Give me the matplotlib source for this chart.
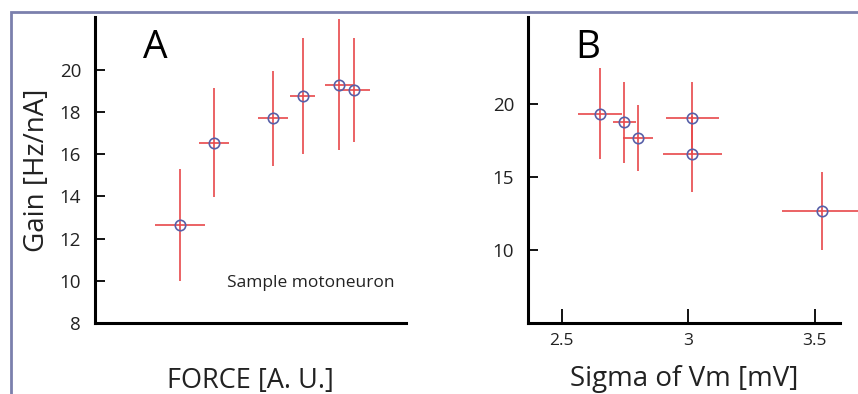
import matplotlib.pyplot as plt
import matplotlib.patches as mpatches

# panel A: gain vs force (arbitrary units)
force = [27.3, 38.3, 57.2, 66.8, 78.6, 83.3]
force_err = [8.0, 4.7, 4.8, 4.0, 4.5, 5.1]
gain_a = [12.65, 16.55, 17.7, 18.75, 19.3, 19.05]
gain_a_err = [2.67, 2.58, 2.26, 2.74, 3.1, 2.47]

# panel B: gain vs sigma of Vm
sigma = [2.65, 2.747, 2.802, 3.016, 3.016, 3.527]
sigma_err = [0.087, 0.045, 0.058, 0.105, 0.117, 0.155]
gain_b = [19.3, 18.73, 17.68, 19.02, 16.57, 12.7]
gain_b_err = [3.1, 2.75, 2.25, 2.47, 2.6, 2.65]

yticks_a = [8, 10, 12, 14, 16, 18, 20]
yticks_b = [10, 15, 20]
xticks_b = [2.5, 3, 3.5]

red = "#e8484a"
blue = "#5860a8"
font = "Open Sans"
ink = "#222222"

fig = plt.figure(figsize=(8.58, 3.94), dpi=100)
W, H = 858, 394


def axes_px(x0, y0, x1, y1):
    return fig.add_axes([x0 / W, 1 - y1 / H, (x1 - x0) / W, (y1 - y0) / H])


def style(ax):
    for s in ("top", "right"):
        ax.spines[s].set_visible(False)
    for s in ("left", "bottom"):
        ax.spines[s].set_linewidth(2.2)
    ax.patch.set_alpha(0)


def draw(ax, x, xe, y, ye):
    ax.errorbar(x, y, xerr=xe, yerr=ye, fmt="none", ecolor=red,
                elinewidth=1.2, capsize=0, clip_on=False, zorder=2)
    ax.plot(x, y, "o", mfc="none", mec=blue, ms=7.5, mew=1.2,
            clip_on=False, zorder=3)


# panel A
ax1 = axes_px(95, 17, 406, 323)
style(ax1)
draw(ax1, force, force_err, gain_a, gain_a_err)
ax1.set_xlim(0, 100)
ax1.set_ylim(8, 22.5)
ax1.set_xticks([])
ax1.set_yticks(yticks_a)
ax1.set_yticklabels([str(t) for t in yticks_a], fontsize=13.5, family=font,
                    color=ink)
ax1.tick_params(axis="y", direction="in", length=7, width=1.3, pad=10)
ax1.set_ylabel("Gain [Hz/nA]", fontsize=20, family=font, color=ink,
               labelpad=6)
ax1.set_xlabel("FORCE [A. U.]", fontsize=19.5, family=font, color=ink,
               labelpad=32)
ax1.text(0.155, 0.96, "A", transform=ax1.transAxes, fontsize=28,
         family=font, va="top", ha="left")
ax1.text(0.425, 0.13, "Sample motoneuron", transform=ax1.transAxes,
         fontsize=12.5, family=font, color=ink, va="center")

# panel B
ax2 = axes_px(528, 17, 840, 323)
style(ax2)
draw(ax2, sigma, sigma_err, gain_b, gain_b_err)
ax2.set_xlim(2.367, 3.6)
ax2.set_ylim(5.05, 25.9)
ax2.set_yticks(yticks_b)
ax2.set_yticklabels([str(t) for t in yticks_b], fontsize=13.5, family=font,
                    color=ink)
ax2.set_xticks(xticks_b)
ax2.set_xticklabels(["2.5", "3", "3.5"], fontsize=12.5, family=font,
                    color=ink)
ax2.tick_params(axis="y", direction="in", length=7, width=1.3, pad=10)
ax2.tick_params(axis="x", direction="in", length=10, width=1.3, pad=7)
ax2.set_xlabel("Sigma of Vm [mV]", fontsize=20, family=font,
               color=ink, labelpad=12)
ax2.text(0.15, 0.96, "B", transform=ax2.transAxes, fontsize=28,
         family=font, va="top", ha="left")

# frame line of the screenshot
fig.add_artist(mpatches.Rectangle((11 / W, -0.05), 1.1, 1.05 - 12 / H,
                                  transform=fig.transFigure, fill=False,
                                  edgecolor="#7b80ad", linewidth=2))

fig.savefig("out.png", dpi=100)
